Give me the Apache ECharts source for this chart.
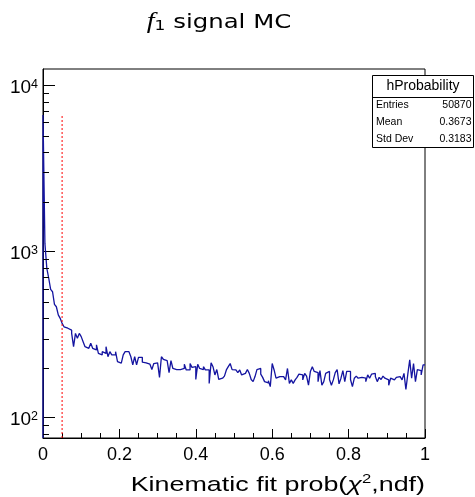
<!DOCTYPE html>
<html><head><meta charset="utf-8">
<script src="https://cdn.jsdelivr.net/npm/echarts@6/dist/echarts.min.js"></script>
<style>html,body{margin:0;padding:0;background:#fff}#c{width:475px;height:497px}</style>
</head><body><div id="c"></div>
<script>
// ---- data ----
const xRange = [0, 1];
const counts = [
 6660,1122,794,692,593,574,482,466,416,397,370,353,346,353,337,322,268,322,301,322,308,287,268,262,268,281,262,256,275,244,239,250,244,268,233,250,239,239,250,218,213,
 214,239,250,250,248,233,208,233,208,231,231,216,214,212,210,210,195,212,214,214,175,233,225,221,221,187,221,198,195,195,195,197,198,210,194,194,212,201,203,170,210,198,195,
 203,194,194,161,214,203,181,195,170,173,173,178,194,203,212,195,194,194,187,194,181,185,187,195,185,170,165,177,195,198,183,175,165,162,167,154,212,194,173,177,173,
 177,173,169,198,161,169,161,169,175,183,181,169,185,178,157,190,203,190,187,165,192,157,165,185,190,170,157,169,187,195,160,173,192,165,190,190,170,154,173,178,173,175,173,
 173,165,181,173,183,185,177,165,175,170,178,173,169,157,173,169,173,175,177,178,169,185,148,183,223,173,212,165,195,192,181,208
];
const yRange = [75.5, 12600];
const xTickValues = [0, 0.2, 0.4, 0.6, 0.8, 1];
const yMinorTicks = [80, 90, 200, 300, 400, 500, 600, 700, 800, 900, 2000, 3000, 4000, 5000, 6000, 7000, 8000, 9000];
const cutX = 0.05;
const cutTop = 6660;
const titleMain = 'f';
const titleSub = '1';
const titleRest = ' signal MC';
const xTitle = ['Kinematic fit prob(', 'χ', '2', ',ndf)'];
const statsName = 'hProbability';
const statsLabels = ['Entries', 'Mean', 'Std Dev'];
const statsValues = ['50870', '0.3673', '0.3183'];

// ---- chart ----
const chart = echarts.init(document.getElementById('c'), null, {renderer: 'canvas'});
const binW = (xRange[1] - xRange[0]) / counts.length;
// histogram outline: each bin contributes its left and right edge at its height
const histData = [[xRange[0], yRange[0]]];
counts.forEach((v, i) => {
  histData.push([xRange[0] + i * binW, v]);
  histData.push([xRange[0] + (i + 1) * binW, v]);
});
const F = "'Liberation Sans', Arial, sans-serif";
const isPow10 = v => { const l = Math.log10(v); return Math.abs(l - Math.round(l)) < 1e-6; };

chart.setOption({
  animation: false,
  grid: {left: 43, right: 50, top: 69, bottom: 59, show: true, borderColor: '#000', borderWidth: 1, backgroundColor: 'transparent'},
  xAxis: {
    type: 'value', min: xRange[0], max: xRange[1], interval: 0.2,
    axisLine: {show: true, onZero: false, lineStyle: {color: '#000', width: 1}},
    axisTick: {show: true, inside: true, length: 9, lineStyle: {color: '#000'}},
    minorTick: {show: true, splitNumber: 4, length: 5, lineStyle: {color: '#000'}},
    splitLine: {show: false}, minorSplitLine: {show: false},
    axisLabel: {color: '#000', fontFamily: F, fontSize: 18, margin: 8,
      formatter: v => { const t = xTickValues.find(x => Math.abs(x - v) < 1e-9); return t === undefined ? '' : String(t); }}
  },
  yAxis: {
    type: 'log', logBase: 10, min: yRange[0], max: yRange[1],
    axisLine: {show: true, lineStyle: {color: '#000', width: 1}},
    axisTick: {show: true, inside: true, length: 12, lineStyle: {color: '#000'}},
    splitLine: {show: false}, minorTick: {show: false},
    axisLabel: {color: '#000', fontFamily: F, fontSize: 19, margin: 5, showMinLabel: false, showMaxLabel: false,
      padding: [5, 0, 0, 0],
      formatter: v => isPow10(v) ? '{m|10}{s|' + Math.round(Math.log10(v)) + '}' : '',
      rich: {m: {fontSize: 19, fontFamily: F, color: '#000', lineHeight: 21},
             s: {fontSize: 12.5, fontFamily: F, color: '#000', verticalAlign: 'top', lineHeight: 12}}}
  },
  series: [
    {type: 'line', data: histData, symbol: 'none', clip: true,
     lineStyle: {color: '#1414a0', width: 1.3}, z: 3},
    {type: 'line', data: [[cutX, yRange[0]], [cutX, cutTop]], symbol: 'none',
     lineStyle: {color: '#ff0000', width: 1, type: [2, 2]}, z: 4}
  ]
});

const graphics = [];
const yAxisX = chart.convertToPixel({xAxisIndex: 0}, xRange[0]);
yMinorTicks.forEach(v => {
  const py = Math.round(chart.convertToPixel({yAxisIndex: 0}, v)) + 0.5;
  graphics.push({type: 'line', shape: {x1: yAxisX, y1: py, x2: yAxisX + 6, y2: py}, style: {stroke: '#000', lineWidth: 1}, z: 10});
});
// title
graphics.push({type: 'text', x: 219, y: 33, scaleX: 1.22, z: 10,
  style: {text: '{i|' + titleMain + '}{b|' + titleSub + '}{n|' + titleRest + '}', align: 'center', verticalAlign: 'bottom', fill: '#000',
    rich: {i: {fontFamily: "'Liberation Serif', serif", fontStyle: 'italic', fontSize: 23, lineHeight: 23, verticalAlign: 'bottom'},
           b: {fontFamily: "'DejaVu Sans', sans-serif", fontSize: 14, lineHeight: 14, verticalAlign: 'bottom'},
           n: {fontFamily: "'DejaVu Sans', sans-serif", fontSize: 20, lineHeight: 23, verticalAlign: 'bottom'}}}});
// x axis title
graphics.push({type: 'text', x: 425, y: 497, scaleX: 1.28, z: 10,
  style: {text: '{n|' + xTitle[0] + '}{c|' + xTitle[1] + '}{s|' + xTitle[2] + '}{n|' + xTitle[3] + '}', align: 'right', verticalAlign: 'bottom', fill: '#000',
    rich: {n: {fontFamily: F, fontSize: 21, lineHeight: 24},
           c: {fontFamily: F, fontStyle: 'italic', fontSize: 21, lineHeight: 24},
           s: {fontFamily: F, fontSize: 13, lineHeight: 13, verticalAlign: 'top'}}}});
// stats box
const bx = 372.5, by = 75.5, bw = 101, bh = 72;
graphics.push({type: 'rect', shape: {x: bx, y: by, width: bw, height: bh}, style: {fill: '#fff', stroke: '#000', lineWidth: 1}, z: 20});
graphics.push({type: 'line', shape: {x1: bx, y1: 97.5, x2: bx + bw, y2: 97.5}, style: {stroke: '#000', lineWidth: 1}, z: 21});
graphics.push({type: 'text', x: bx + bw / 2, y: 86.5, z: 21,
  style: {text: statsName, fontFamily: F, fontSize: 14, fill: '#000', align: 'center', verticalAlign: 'middle'}});
const rowY = [105.5, 122, 139];
statsLabels.forEach((t, i) => {
  graphics.push({type: 'text', x: 376, y: rowY[i], z: 21, style: {text: t, fontFamily: F, fontSize: 10.5, fill: '#000', align: 'left', verticalAlign: 'middle'}});
  graphics.push({type: 'text', x: 471.5, y: rowY[i], z: 21, style: {text: statsValues[i], fontFamily: F, fontSize: 10.5, fill: '#000', align: 'right', verticalAlign: 'middle'}});
});
chart.setOption({graphic: graphics});
</script>
</body></html>
